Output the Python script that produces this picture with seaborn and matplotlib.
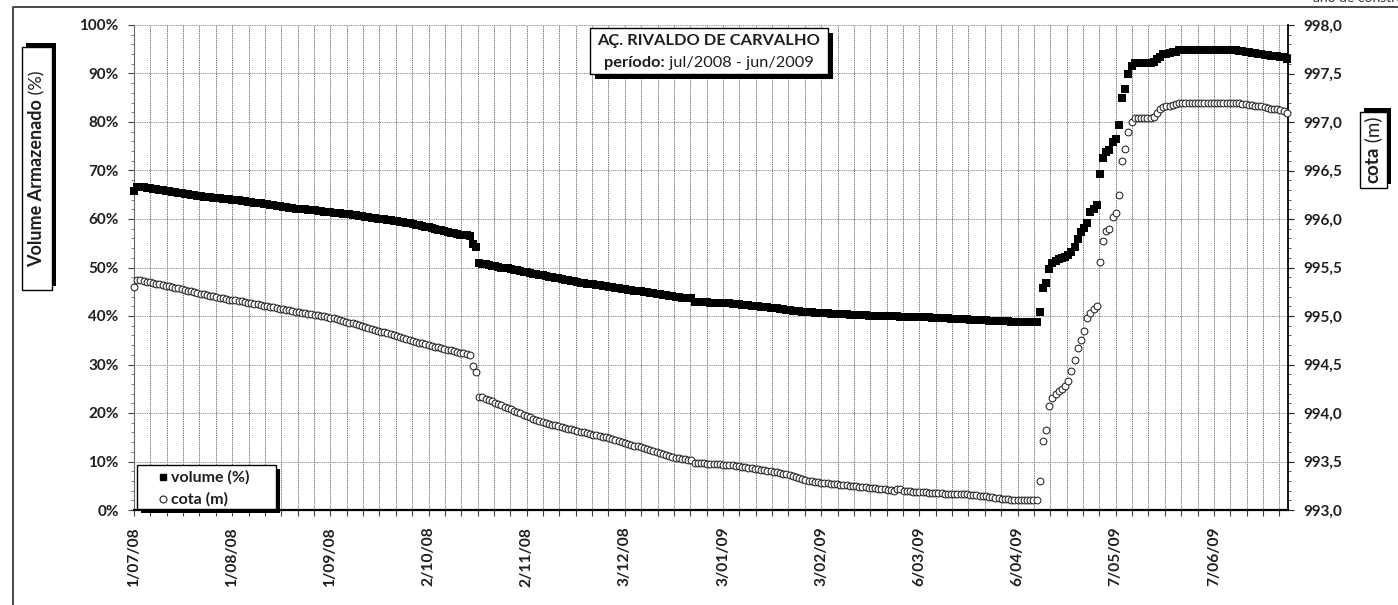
import numpy as np
import pandas as pd
import seaborn as sns
import matplotlib
matplotlib.use("Agg")
import matplotlib.pyplot as plt
import matplotlib.dates as mdates
from matplotlib.ticker import FixedLocator, FuncFormatter, MultipleLocator
from matplotlib.patches import Rectangle
from matplotlib.lines import Line2D

# daily readings, 1/07/2008 .. 30/06/2009
start_date = "2008-07-01"

volume_pct = [
    65.8,
    66.6, 66.6, 66.5, 66.4, 66.3, 66.2, 66.1, 66.0, 65.9, 65.8,
    65.7, 65.6, 65.5, 65.4, 65.3, 65.2, 65.1, 65.0, 64.9, 64.8,
    64.7, 64.6, 64.6, 64.5, 64.4, 64.4, 64.3, 64.2, 64.2, 64.1,
    64.0, 63.9, 63.9, 63.8, 63.7, 63.6, 63.5, 63.4, 63.3, 63.2,
    63.1, 63.0, 62.9, 62.8, 62.7, 62.6, 62.5, 62.4, 62.3, 62.2,
    62.1, 62.1, 62.0, 62.0, 61.9, 61.8, 61.8, 61.7, 61.6, 61.5,
    61.5, 61.4, 61.3, 61.3, 61.2, 61.1, 61.0, 61.0, 60.9, 60.8,
    60.7, 60.6, 60.5, 60.4, 60.3, 60.2, 60.1, 60.0, 59.9, 59.8,
    59.7, 59.6, 59.5, 59.4, 59.3, 59.2, 59.1, 59.0, 58.8, 58.7,
    58.6, 58.4, 58.3, 58.1, 58.0, 57.8, 57.7, 57.5, 57.4, 57.2,
    57.1, 57.0, 56.8, 56.7, 56.6, 56.4,
    54.8, 54.2,
    50.9, 50.8, 50.7, 50.5, 50.4, 50.3, 50.2, 50.0, 49.9, 49.8, 49.7, 49.5, 49.4, 49.3, 49.1,
    49.0, 48.9, 48.7, 48.6, 48.5, 48.4, 48.3, 48.1, 48.0, 47.9, 47.8, 47.7, 47.5, 47.4, 47.3,
    47.2, 47.1, 46.9, 46.8, 46.7, 46.6, 46.5, 46.4,
    46.3, 46.2, 46.1, 46.0, 45.9, 45.8, 45.7, 45.6, 45.5, 45.4, 45.3, 45.2, 45.2, 45.1, 45.0,
    44.9, 44.8, 44.7, 44.6, 44.5, 44.4, 44.3, 44.2, 44.1, 44.0, 43.9, 43.8, 43.8, 43.7, 43.7,
    42.8, 42.8, 42.8, 42.8, 42.8, 42.7, 42.7, 42.7, 42.7, 42.7, 42.6, 42.6,
    42.5, 42.5, 42.4, 42.3, 42.3, 42.2, 42.1, 42.1, 42.0, 41.9, 41.9, 41.8, 41.7, 41.6, 41.6,
    41.5, 41.4, 41.3, 41.2, 41.1, 41.0, 41.0, 40.9, 40.9, 40.8, 40.8, 40.7, 40.7, 40.7,
    40.6, 40.6, 40.5, 40.5, 40.5, 40.4, 40.4, 40.4, 40.3, 40.3, 40.3, 40.2, 40.2, 40.2, 40.1,
    40.1, 40.1, 40.0, 40.0, 40.0, 39.9, 39.9, 39.9, 39.9, 39.8, 39.8, 39.8, 39.8, 39.8, 39.8, 39.8,
    39.7, 39.7, 39.7, 39.6, 39.6, 39.6, 39.5, 39.5, 39.5, 39.4, 39.4, 39.4, 39.3, 39.3, 39.3,
    39.2, 39.2, 39.2, 39.1, 39.1, 39.1, 39.0, 39.0, 39.0, 38.9, 38.9, 38.9, 38.9, 38.8, 38.8,
    38.8, 38.8, 38.7, 38.7, 38.7, 38.7, 38.7,
    40.8, 45.8, 46.8, 49.7, 50.9, 51.3, 51.7, 52.0, 52.2, 52.6, 53.2, 54.2, 55.9, 57.3, 58.1,
    59.2, 61.4, 62.1, 62.9, 69.3, 72.6, 73.8, 74.2, 75.9, 76.5, 79.4, 85.0, 86.8, 89.9, 91.5, 92.2,
    92.2, 92.2, 92.2, 92.2, 92.2, 92.3,
    93.0, 93.4, 94.0, 94.1, 94.2, 94.4, 94.5, 94.8,
    94.8, 94.8, 94.8, 94.8, 94.8, 94.8, 94.8, 94.8, 94.8, 94.8, 94.8, 94.8, 94.8, 94.8, 94.8,
    94.8, 94.8, 94.8,
    94.7, 94.6, 94.5, 94.4, 94.3, 94.2, 94.1, 94.0, 93.9, 93.8, 93.7, 93.6, 93.6, 93.5, 93.3, 93.0,
]

cota_m = [
    995.30, 995.37, 995.37,
    995.36, 995.35, 995.35, 995.34, 995.33, 995.33, 995.32, 995.31, 995.31, 995.30,
    995.29, 995.29, 995.28, 995.27, 995.26, 995.26, 995.25, 995.24, 995.23, 995.23,
    995.22, 995.21, 995.21, 995.20, 995.19, 995.19, 995.18, 995.17,
    995.16, 995.16, 995.15, 995.15, 995.14, 995.13, 995.13, 995.12, 995.12, 995.11,
    995.10, 995.10, 995.09, 995.09, 995.08, 995.07, 995.07, 995.06, 995.06, 995.05,
    995.04, 995.04, 995.03, 995.03, 995.02, 995.02, 995.01, 995.01, 995.00, 995.00,
    994.99, 994.98, 994.98, 994.97, 994.96, 994.95, 994.94, 994.93, 994.93, 994.92,
    994.91, 994.90, 994.89, 994.88, 994.87, 994.86, 994.85, 994.84, 994.83, 994.82,
    994.81, 994.80, 994.79, 994.78, 994.77, 994.76, 994.75, 994.74, 994.73, 994.72,
    994.72, 994.71, 994.70,
    994.69, 994.68, 994.68, 994.67, 994.66, 994.65, 994.65, 994.64, 994.63, 994.62,
    994.62, 994.61, 994.60,
    994.48, 994.42,
    994.17, 994.16, 994.14, 994.13, 994.12, 994.10, 994.09, 994.08, 994.06, 994.05,
    994.04, 994.02, 994.01, 994.00, 993.98, 993.97, 993.96, 993.94, 993.93, 993.92, 993.91,
    993.90, 993.89, 993.88, 993.88, 993.87, 993.86, 993.85, 993.84, 993.83, 993.82,
    993.81, 993.80, 993.80, 993.79, 993.78, 993.77, 993.77, 993.76, 993.75, 993.75, 993.74,
    993.73, 993.72, 993.71, 993.70, 993.69, 993.68, 993.67, 993.66, 993.66, 993.65,
    993.64, 993.63, 993.62, 993.61, 993.60, 993.59, 993.58, 993.57, 993.56, 993.55,
    993.54, 993.54, 993.53, 993.53, 993.52, 993.52,
    993.48, 993.48, 993.48, 993.48, 993.47, 993.47, 993.47, 993.47, 993.47, 993.46, 993.46, 993.46,
    993.46, 993.45, 993.45, 993.44, 993.44, 993.43, 993.43, 993.42, 993.42, 993.41,
    993.41, 993.40, 993.40, 993.39, 993.39, 993.38,
    993.37, 993.37, 993.36, 993.35, 993.34, 993.33, 993.32, 993.31, 993.30, 993.30,
    993.29, 993.29, 993.28, 993.28,
    993.28, 993.27, 993.27, 993.27, 993.26, 993.26, 993.26, 993.25, 993.25, 993.25,
    993.24, 993.24, 993.24, 993.23, 993.23, 993.23, 993.22, 993.22, 993.22, 993.21,
    993.21, 993.20,
    993.22, 993.22, 993.20,
    993.20, 993.20, 993.19, 993.19, 993.19, 993.19, 993.19, 993.18, 993.18, 993.18,
    993.18, 993.18, 993.17, 993.17, 993.17, 993.17, 993.16, 993.16, 993.16, 993.16,
    993.15, 993.15, 993.15, 993.14, 993.14, 993.14, 993.13, 993.13, 993.12, 993.12,
    993.11, 993.11, 993.11, 993.10, 993.10, 993.10, 993.10, 993.10, 993.10, 993.10,
    993.10, 993.10,
    993.30, 993.71, 993.82, 994.07, 994.15, 994.20, 994.23, 994.25, 994.28, 994.33,
    994.43, 994.55, 994.67, 994.75, 994.85, 994.98, 995.03, 995.07, 995.10, 995.56,
    995.77, 995.88, 995.90, 996.02, 996.06, 996.25, 996.60, 996.72, 996.90, 997.00, 997.04,
    997.04, 997.04, 997.04, 997.04, 997.04, 997.05,
    997.09, 997.13, 997.15, 997.16, 997.17, 997.18, 997.19, 997.20,
    997.20, 997.20, 997.20, 997.20, 997.20, 997.20, 997.20, 997.20, 997.20, 997.20,
    997.20, 997.20, 997.20, 997.20, 997.20, 997.20, 997.20, 997.20, 997.20,
    997.19, 997.19, 997.18, 997.18, 997.17, 997.16, 997.16, 997.15, 997.14, 997.13,
    997.13, 997.13, 997.12, 997.11, 997.09,
]

title_line1 = "AÇ. RIVALDO DE CARVALHO"
title_bold = "período:"
title_rest = " jul/2008 - jun/2009"
left_label = ("Volume Armazenado", " (%)")
right_label = ("cota", " (m)")
legend_labels = ["volume (%)", "cota (m)"]
corner_note = "ano de construção do açude"

W, H = 1398, 605
INK = "#1e1e1e"

sns.set_style("white")
plt.rcParams["font.family"] = ["Lato", "DejaVu Sans"]

dates = pd.date_range(start_date, periods=len(volume_pct), freq="D")
dates_c = pd.date_range(start_date, periods=len(cota_m), freq="D")
d0 = mdates.date2num(pd.Timestamp(start_date))

fig = plt.figure(figsize=(W / 100, H / 100), dpi=100)
fig.patch.set_facecolor("white")


def fx(x):
    return x / W


def fy(y):
    return 1 - y / H


ax = fig.add_axes([fx(134), fy(510), (1288 - 134) / W, (510 - 25) / H])
ax2 = ax.twinx()

sns.scatterplot(x=dates, y=volume_pct, marker="s", s=30, color="black",
                linewidth=0, ax=ax, zorder=3)
sns.scatterplot(x=dates_c, y=cota_m, marker="o", s=24, color="white",
                edgecolor="#222222", linewidth=0.75, ax=ax2, zorder=3)
for a in (ax, ax2):
    for c in a.collections:
        c.set_clip_on(False)

ax.set_xlim(d0, d0 + 364.4)
ax.set_ylim(0, 100)
ax2.set_ylim(993.0, 998.0)

major_x = [d0 + 31 * k for k in range(12)]
minor_x = [d0 + 31 * k / 6 for k in range(71)]
ax.xaxis.set_major_locator(FixedLocator(major_x))
ax.xaxis.set_minor_locator(FixedLocator(minor_x))


def date_fmt(v, pos):
    d = mdates.num2date(v)
    return f"{d.day}/{d:%m/%y}"


ax.xaxis.set_major_formatter(FuncFormatter(date_fmt))
ax.yaxis.set_major_locator(MultipleLocator(10))
ax.yaxis.set_minor_locator(MultipleLocator(2))
ax.yaxis.set_major_formatter(FuncFormatter(lambda v, p: f"{v:.0f}%"))
ax2.yaxis.set_major_locator(MultipleLocator(0.5))
ax2.yaxis.set_minor_locator(MultipleLocator(0.1))
ax2.yaxis.set_major_formatter(FuncFormatter(lambda v, p: f"{v:.1f}".replace(".", ",")))

ax.set_xlabel("")
ax.set_ylabel("")
ax2.set_ylabel("")

ax.grid(which="both", axis="x", color="#6a6a6a", linestyle=(0, (1.5, 1)), linewidth=0.65)
ax.grid(which="major", axis="y", color="#7a7a7a", linestyle=(0, (1, 1)), linewidth=0.65)
ax2.grid(False)
ax.set_axisbelow(True)

ax.tick_params(axis="x", which="both", direction="out", length=4, width=0.8,
               color="#444444", bottom=True)
ax.tick_params(axis="x", which="major", labelrotation=90, pad=8)
ax.tick_params(axis="y", which="major", direction="out", length=4, width=0.8,
               color="#444444", pad=7, left=True)
ax.tick_params(axis="y", which="minor", direction="out", length=2.5, width=0.6,
               color="#666666", left=True)
ax2.tick_params(axis="y", which="major", direction="out", length=4, width=0.8,
                color="#222222", pad=7, right=True)
ax2.tick_params(axis="y", which="minor", direction="out", length=2.5, width=0.6,
                color="#444444", right=True)
for lab in ax.get_yticklabels() + ax2.get_yticklabels():
    lab.set_fontsize(11)
    lab.set_fontweight("bold")
    lab.set_color(INK)
for lab in ax.get_xticklabels():
    lab.set_fontsize(11.2)
    lab.set_fontweight("bold")
    lab.set_color(INK)

for s in ("top", "right"):
    ax.spines[s].set_visible(False)
ax.spines["left"].set_color("#666666")
ax.spines["left"].set_linewidth(0.8)
ax.spines["bottom"].set_color("black")
ax.spines["bottom"].set_linewidth(1.6)
for s in ("top", "left", "bottom"):
    ax2.spines[s].set_visible(False)
ax2.spines["right"].set_color("black")
ax2.spines["right"].set_linewidth(1.3)


def shadow_box(x0, y0, x1, y1, dx, dy):
    fig.add_artist(Rectangle((fx(x0 + dx), fy(y1 + dy)), (x1 - x0) / W, (y1 - y0) / H,
                             transform=fig.transFigure, facecolor="black",
                             edgecolor="none", zorder=5))
    fig.add_artist(Rectangle((fx(x0), fy(y1)), (x1 - x0) / W, (y1 - y0) / H,
                             transform=fig.transFigure, facecolor="white",
                             edgecolor="black", linewidth=1.0, zorder=6))


# outer frame
fig.add_artist(Line2D([fx(13), fx(13), fx(1400)], [fy(606), fy(7), fy(7)],
                      transform=fig.transFigure, color="#3a3a3a", linewidth=1.3))
fig.text(fx(1313), fy(2.5), corner_note, fontsize=10, color="#333333",
         ha="left", va="baseline")

renderer = fig.canvas.get_renderer()

# title box
shadow_box(590, 28, 828, 74, 5, 5)
fig.text(fx(709), fy(41), title_line1, fontsize=11.8, fontweight="bold",
         color=INK, ha="center", va="center", zorder=7)
ta = fig.text(0, fy(63), title_bold, fontsize=11.8, fontweight="bold",
              color=INK, ha="left", va="center", zorder=7)
tb = fig.text(0, fy(63), title_rest, fontsize=11.8, color=INK,
              ha="left", va="center", zorder=7)
wa = ta.get_window_extent(renderer).width
wb = tb.get_window_extent(renderer).width
x_start = 709 - (wa + wb) / 2
ta.set_x(fx(x_start))
tb.set_x(fx(x_start + wa))


def rotated_label(parts, cx, cy, size):
    t1 = fig.text(fx(cx), 0, parts[0], fontsize=size, fontweight="bold", rotation=90,
                  color=INK, ha="center", va="bottom", zorder=7)
    t2 = fig.text(fx(cx), 0, parts[1], fontsize=size, rotation=90,
                  color=INK, ha="center", va="bottom", zorder=7)
    h1 = t1.get_window_extent(renderer).height
    h2 = t2.get_window_extent(renderer).height
    ybot = (H - cy) - (h1 + h2) / 2
    t1.set_y(ybot / H)
    t2.set_y((ybot + h1) / H)


shadow_box(22, 47, 52, 290, 4, -4)
rotated_label(left_label, 37, 169, 13)
shadow_box(1360, 112, 1387, 188, 4, -4)
rotated_label(right_label, 1373, 150, 13.5)

# legend
shadow_box(137, 465, 276, 509, 4, 4)
fig.add_artist(Line2D([fx(163)], [fy(477)], marker="s", markersize=5, color="black",
                      linestyle="none", transform=fig.transFigure, zorder=7))
fig.add_artist(Line2D([fx(163)], [fy(499)], marker="o", markersize=5,
                      markerfacecolor="white", markeredgecolor="#222222",
                      markeredgewidth=0.8, linestyle="none",
                      transform=fig.transFigure, zorder=7))
fig.text(fx(171), fy(477), legend_labels[0], fontsize=11.5, fontweight="bold",
         color=INK, ha="left", va="center", zorder=7)
fig.text(fx(171), fy(499), legend_labels[1], fontsize=11.5, fontweight="bold",
         color=INK, ha="left", va="center", zorder=7)

fig.savefig("out.png", dpi=100)
